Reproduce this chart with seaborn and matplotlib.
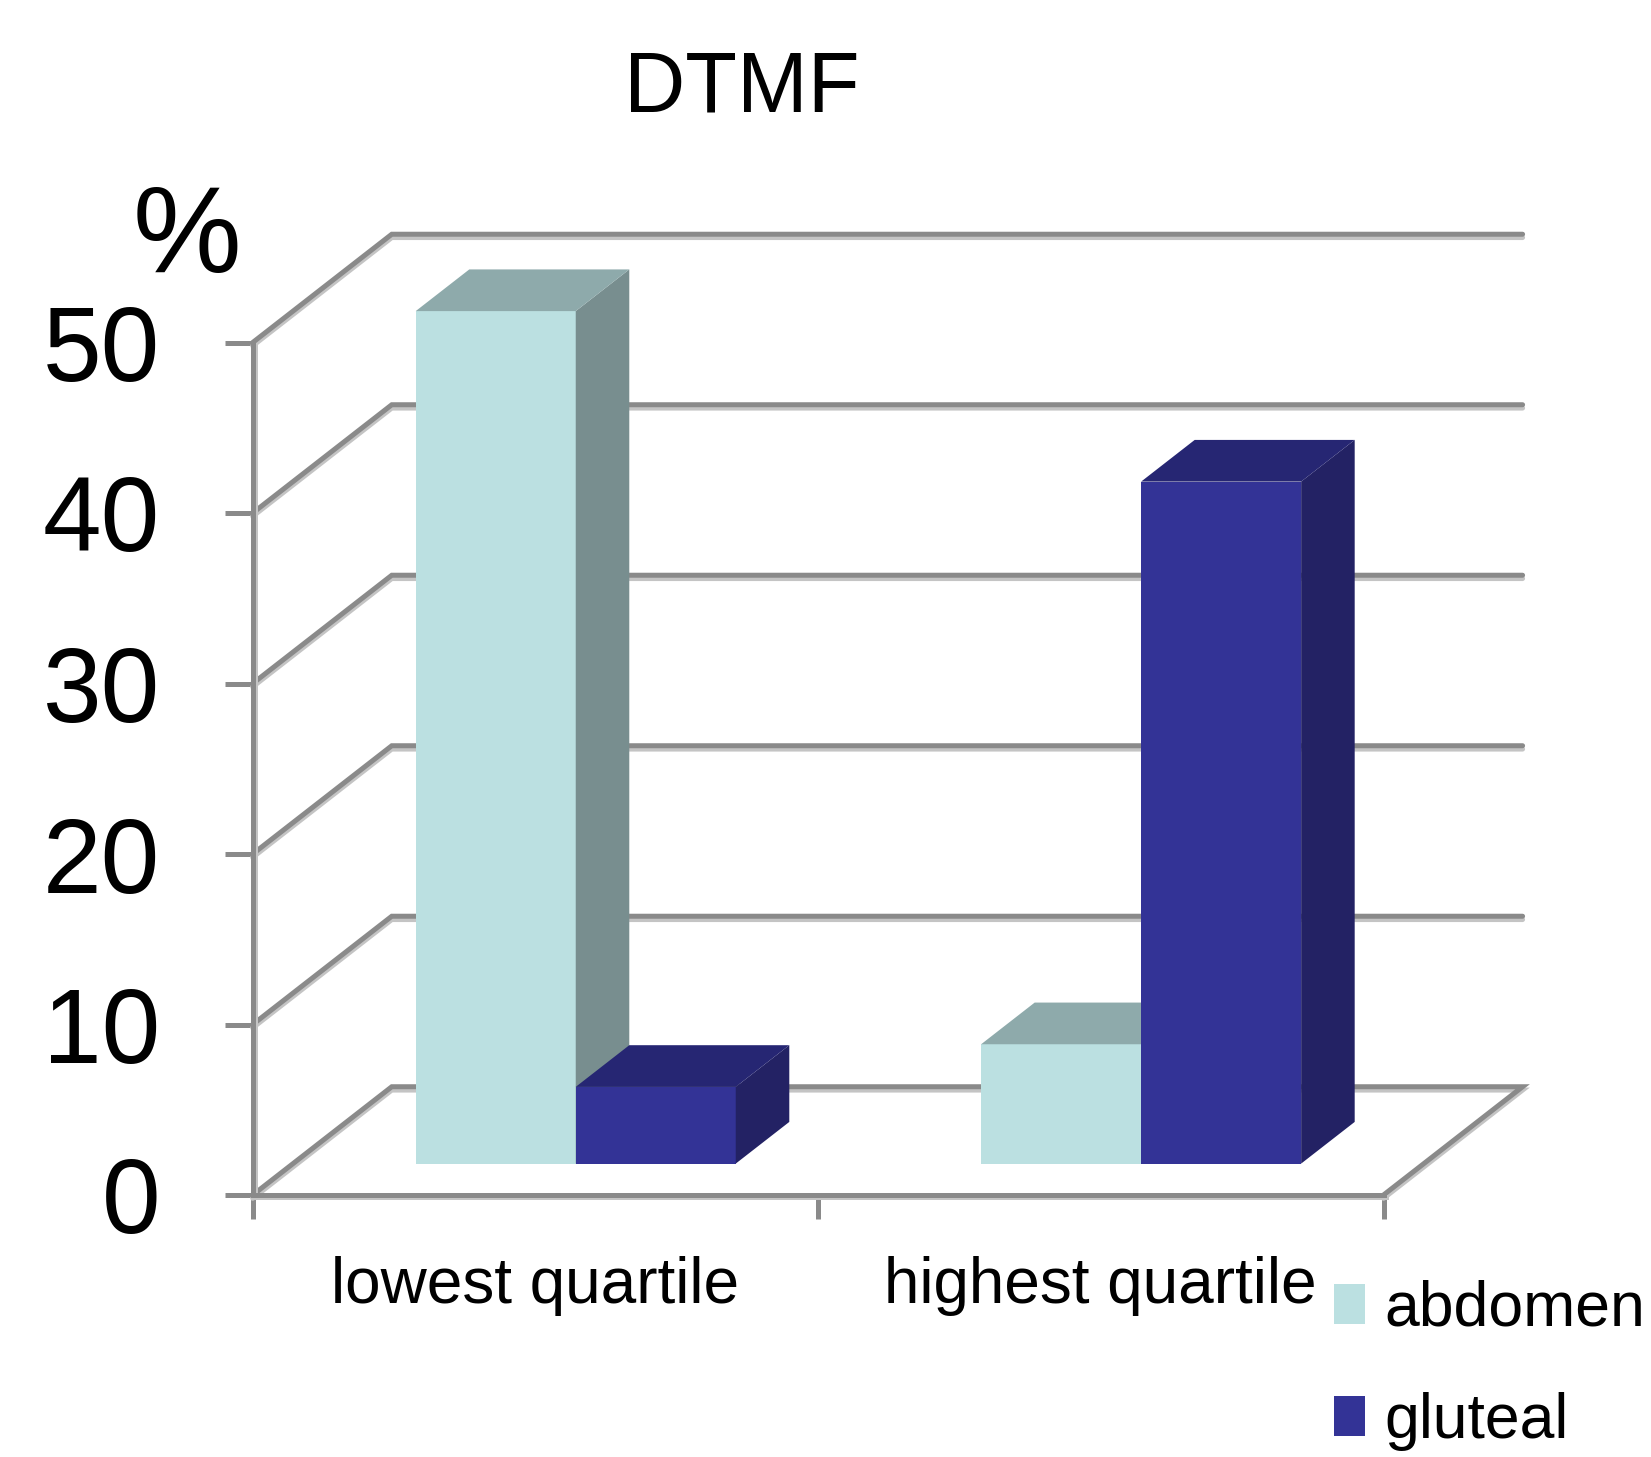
import numpy as np
import pandas as pd
import matplotlib
matplotlib.use("Agg")
import matplotlib.pyplot as plt
import matplotlib.patheffects as pe
from matplotlib.patches import Polygon, Patch
import seaborn as sns

# ---------------- data ----------------
title = "DTMF"
categories = ["lowest quartile", "highest quartile"]
series = ["abdomen", "gluteal"]
abdomen = [50, 7]
gluteal = [4.5, 40]
y_ticks = [0, 10, 20, 30, 40, 50]
y_unit = "%"

# ---------------- style ----------------
front_colors = ["#BBE0E1", "#333396"]
side_colors = ["#788E8F", "#232264"]
top_colors = ["#8EAAAB", "#262673"]
grid_color = "#8A8A8A"
shadow_color = "#C4C4C4"

sns.set_style("white")
plt.rcParams["font.family"] = ["Liberation Sans", "DejaVu Sans"]
plt.rcParams["text.color"] = "black"
plt.rcParams["xtick.labelcolor"] = "black"
plt.rcParams["ytick.labelcolor"] = "black"

W, H, DPI = 1651, 1457, 100
fig = plt.figure(figsize=(W / DPI, H / DPI), dpi=DPI)

# geometry (pixels)
x0_px, y0_px = 252.7, 1195.0
cat_px = 565.4
unit_px = 17.05
xlim = (-0.5, 1.75)
ylim = (0, 57)
ax = fig.add_axes([x0_px / W, (H - y0_px) / H,
                   (xlim[1] - xlim[0]) * cat_px / W,
                   (ylim[1] - ylim[0]) * unit_px / H])

# depth offsets in data units
DX, DY = 0.246, 6.35
d0, d1 = 0.29, 0.675

df = pd.DataFrame({
    "quartile": categories * 2,
    "site": [s for s in series for _ in categories],
    "value": abdomen + gluteal,
})

sns.barplot(data=df, x="quartile", y="value", hue="site", order=categories,
            hue_order=series, palette=front_colors, saturation=1, width=0.566,
            linewidth=0, legend=False, ax=ax)

dd = d1 - d0
for hi, cont in enumerate(ax.containers):
    for bar in cont:
        x, w, h = bar.get_x(), bar.get_width(), bar.get_height()
        nx = x + d0 * DX
        ny = d0 * DY
        bar.set_x(nx)
        bar.set_y(ny)
        bar.set_zorder(3 + hi)
        bar.set_clip_on(False)
        x1 = nx + w
        side = Polygon([(x1, ny), (x1, ny + h), (x1 + dd * DX, ny + h + dd * DY),
                        (x1 + dd * DX, ny + dd * DY)], closed=True,
                       facecolor=side_colors[hi], edgecolor="none", zorder=3 + hi,
                       clip_on=False)
        top = Polygon([(nx, ny + h), (x1, ny + h), (x1 + dd * DX, ny + h + dd * DY),
                       (nx + dd * DX, ny + h + dd * DY)], closed=True,
                      facecolor=top_colors[hi], edgecolor="none", zorder=3 + hi,
                      clip_on=False)
        ax.add_patch(side)
        ax.add_patch(top)

# walls / gridlines
shadow = [pe.SimpleLineShadow(offset=(0, -2.4), shadow_color=shadow_color, alpha=1),
          pe.Normal()]
for v in y_ticks:
    if v == 0:
        xs = [-0.5, -0.5 + DX, 1.5 + DX, 1.5]
        ys = [v, v + DY, v + DY, v]
    else:
        xs = [-0.5, -0.5 + DX, 1.5 + DX]
        ys = [v, v + DY, v + DY]
    ax.plot(xs, ys, color=grid_color, lw=3.6, zorder=1, clip_on=False,
            solid_joinstyle="miter", path_effects=shadow)

ax.set_xlim(*xlim)
ax.set_ylim(*ylim)
ax.set_xlabel("")
ax.set_ylabel("")

for s in ["top", "right"]:
    ax.spines[s].set_visible(False)
ax.spines["left"].set_bounds(0, 50)
ax.spines["bottom"].set_bounds(-0.5, 1.5)
for s in ["left", "bottom"]:
    ax.spines[s].set_color(grid_color)
    ax.spines[s].set_linewidth(3.6)
    ax.spines[s].set_zorder(2)
    ax.spines[s].set_path_effects(
        [pe.SimpleLineShadow(offset=(1.6, -1.6), shadow_color=shadow_color, alpha=1),
         pe.Normal()])

ax.set_yticks(y_ticks)
ax.set_yticklabels([str(t) for t in y_ticks])
ax.tick_params(axis="y", length=20.5, width=3.6, color=grid_color, pad=46,
               labelsize=76, direction="out", left=True, labelcolor="black")
ax.set_xticks(range(len(categories)))
ax.set_xticklabels(categories)
ax.tick_params(axis="x", which="major", length=0, pad=44, labelsize=46,
               labelcolor="black")
ax.set_xticks([-0.5, 0.5, 1.5], minor=True)
ax.tick_params(axis="x", which="minor", length=17.5, width=3.6, color=grid_color,
               direction="out", bottom=True)

fig.text(742 / W, 1 - 90 / H, title, ha="center", va="center", fontsize=61,
         color="black")
fig.text(187 / W, 1 - 240 / H, y_unit, ha="center", va="center", fontsize=88,
         color="black")

handles = [Patch(facecolor=c, edgecolor="none") for c in front_colors]
leg = fig.legend(handles, series, loc="upper left",
                 bbox_to_anchor=(1334 / W, 1 - 1280 / H),
                 frameon=False, fontsize=45, handlelength=0.5, handleheight=0.6,
                 handletextpad=0.3, labelspacing=0.85, borderpad=0, borderaxespad=0)
for t in leg.get_texts():
    t.set_color("black")

fig.savefig("out.png", dpi=DPI)
